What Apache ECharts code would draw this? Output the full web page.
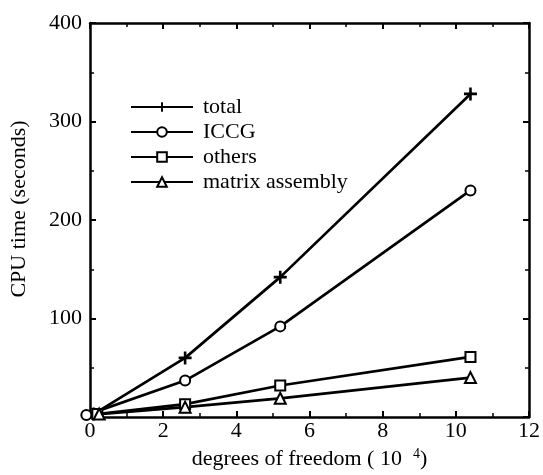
<!DOCTYPE html>
<html><head><meta charset="utf-8">
<script src="https://cdn.jsdelivr.net/npm/echarts@6/dist/echarts.min.js"></script>
<style>html,body{margin:0;padding:0;background:#fff}#c{width:543px;height:475px}</style>
</head><body><div id="c"></div>
<script>
const seriesNames = ['total', 'ICCG', 'others', 'matrix assembly'];
const dofX = [
  [0.1, 2.6, 5.2, 10.4],
  [-0.1, 2.6, 5.2, 10.4],
  [0.2, 2.6, 5.2, 10.4],
  [0.25, 2.6, 5.2, 10.4]
];
const totalY = [3, 60, 142, 328];
const iccgY = [2, 37, 92, 230];
const othersY = [3, 13, 32, 61];
const matrixY = [3, 10, 19, 40];
const yValues = [totalY, iccgY, othersY, matrixY];
const xTicks = [0, 2, 4, 6, 8, 10, 12];
const yTicks = [0, 100, 200, 300, 400];

const FONT = '"Liberation Serif", "DejaVu Serif", serif';
const plusPath = 'path://M4,0 L6,0 L6,4 L10,4 L10,6 L6,6 L6,10 L4,10 L4,6 L0,6 L0,4 L4,4 Z';
const symbols = [plusPath, 'circle', 'rect', 'triangle'];
const symbolSizes = [13, 10, 10, 11];

const chart = echarts.init(document.getElementById('c'), null, {renderer: 'canvas'});
const tickCommon = {inside: true, length: 6, lineStyle: {color: '#000', width: 2}};
const minorCommon = {show: true, splitNumber: 2, length: 4, lineStyle: {color: '#000', width: 1.5}};

const series = seriesNames.map((name, i) => ({
  name: name,
  type: 'line',
  clip: false,
  symbol: symbols[i],
  symbolSize: symbolSizes[i],
  showAllSymbol: true,
  data: dofX[i].map((x, j) => [x, yValues[i][j]]),
  lineStyle: {color: '#000', width: 2.7},
  itemStyle: i === 0 ? {color: '#000', borderColor: '#000', borderWidth: 0}
                     : {color: '#fff', borderColor: '#000', borderWidth: 2},
  emphasis: {disabled: true},
  animation: false
}));

chart.setOption({
  animation: false,
  backgroundColor: '#fff',
  grid: {left: 89, right: 11, top: 23, bottom: 58, show: false},
  legend: {
    orient: 'vertical',
    left: 125,
    top: 91,
    itemWidth: 62,
    itemHeight: 12,
    itemGap: 3,
    data: seriesNames,
    textStyle: {fontFamily: FONT, fontSize: 22, lineHeight: 22, color: '#000', padding: [0, 0, 0, 5]},
    inactiveColor: '#000'
  },
  xAxis: [{
    type: 'value', min: 0, max: 12, interval: 2,
    name: 'degrees of freedom ( 10  {sup|4})',
    nameLocation: 'middle', nameGap: 30,
    nameTextStyle: {fontFamily: FONT, fontSize: 22, color: '#000',
      rich: {sup: {fontFamily: FONT, fontSize: 14, color: '#000', verticalAlign: 'top', padding: [0, 0, 10, 0]}}},
    axisLine: {show: true, onZero: false, lineStyle: {color: '#000', width: 2.5}},
    axisTick: tickCommon,
    minorTick: minorCommon,
    splitLine: {show: false},
    axisLabel: {fontFamily: FONT, fontSize: 22, color: '#000', margin: 3,
      formatter: v => xTicks.includes(v) ? String(v) : ''}
  }, {
    type: 'value', min: 0, max: 12, interval: 2, position: 'top',
    axisLine: {show: true, onZero: false, lineStyle: {color: '#000', width: 2.5}},
    axisTick: tickCommon, minorTick: minorCommon,
    splitLine: {show: false}, axisLabel: {show: false}
  }],
  yAxis: [{
    type: 'value', min: 0, max: 400, interval: 100,
    name: 'CPU time (seconds)',
    nameLocation: 'middle', nameGap: 60, nameRotate: 90,
    nameTextStyle: {fontFamily: FONT, fontSize: 22, color: '#000', padding: [0, 0, 0, 22]},
    axisLine: {show: true, onZero: false, lineStyle: {color: '#000', width: 2.5}},
    axisTick: tickCommon,
    minorTick: minorCommon,
    splitLine: {show: false},
    axisLabel: {fontFamily: FONT, fontSize: 22, color: '#000', margin: 8,
      formatter: v => yTicks.includes(v) && v !== 0 ? String(v) : ''}
  }, {
    type: 'value', min: 0, max: 400, interval: 100, position: 'right',
    axisLine: {show: true, onZero: false, lineStyle: {color: '#000', width: 2.5}},
    axisTick: tickCommon, minorTick: minorCommon,
    splitLine: {show: false}, axisLabel: {show: false}
  }],
  series: series
});
</script></body></html>
